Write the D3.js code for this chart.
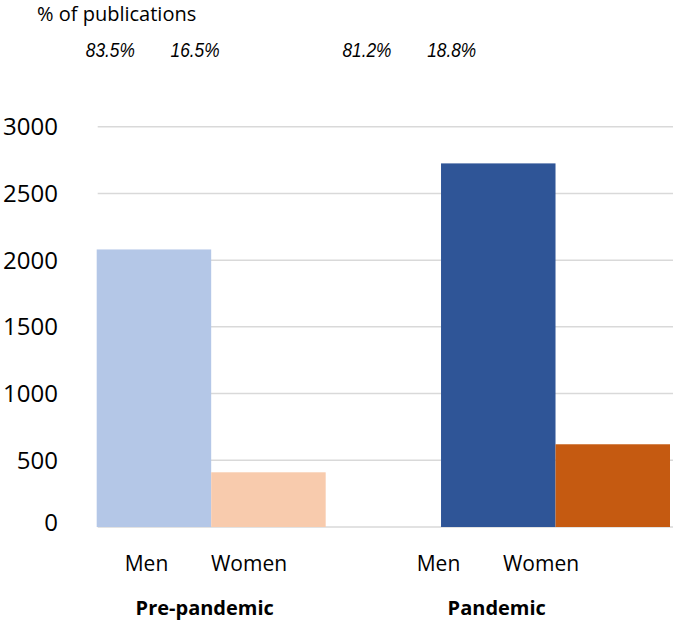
<!DOCTYPE html>
<html><head><meta charset="utf-8">
<script src="https://cdn.jsdelivr.net/npm/d3@7"></script>
<style>body{margin:0;background:#fff}svg{display:block}</style>
</head><body>
<svg id="c" width="685" height="620"></svg>
<script>
const groups = ["Pre-pandemic", "Pandemic"];
const genders = ["Men", "Women"];
const values = {"Pre-pandemic": [2080, 410], "Pandemic": [2725, 620]};
const percents = {"Pre-pandemic": ["83.5%", "16.5%"], "Pandemic": ["81.2%", "18.8%"]};
const colors = {"Pre-pandemic": ["#b4c7e7", "#f8cbad"], "Pandemic": ["#2f5597", "#c55a11"]};
const yTicks = [0, 500, 1000, 1500, 2000, 2500, 3000];
const yTitle = "% of publications";

const svg = d3.select("#c");
const y = d3.scaleLinear().domain([0, 3000]).range([527, 126.7]);
const x0 = d3.scaleBand().domain(groups).range([96.7, 670]).paddingInner(0.335);
const x1 = d3.scaleBand().domain(genders).range([0, x0.bandwidth()]);
// label rows
const lx0 = d3.scaleBand().domain(groups).range([95.25, 592.25]).paddingInner(0.298);
const lx1 = d3.scaleBand().domain(genders).range([0, lx0.bandwidth()]);
const px0 = d3.scaleBand().domain(groups).range([68, 494]).paddingInner(0.34);
const px1 = d3.scaleBand().domain(genders).range([0, px0.bandwidth()]);

// gridlines
svg.append("g").selectAll("line").data(yTicks).join("line")
  .attr("x1", 97.7).attr("x2", 673)
  .attr("y1", d => y(d)).attr("y2", d => y(d))
  .attr("stroke", "#d9d9d9").attr("stroke-width", 1.5);

// y labels
svg.append("g").selectAll("text").data(yTicks).join("text")
  .attr("x", 58).attr("y", d => y(d) - (d === 0 ? 5 : 0))
  .attr("dy", "0.36em").attr("text-anchor", "end")
  .attr("font-family", "Open Sans").attr("font-size", 24).attr("fill", "#000")
  .text(d => d);

// bars
const g = svg.append("g").selectAll("g").data(groups).join("g")
  .attr("transform", d => `translate(${x0(d)},0)`);
g.selectAll("rect").data(d => genders.map((k, i) => ({grp: d, k, i, v: values[d][i]})))
  .join("rect")
  .attr("x", d => x1(d.k)).attr("width", x1.bandwidth())
  .attr("y", d => y(d.v)).attr("height", d => y(0) - y(d.v))
  .attr("fill", d => colors[d.grp][d.i]);

// category labels
groups.forEach(grp => {
  genders.forEach((k, i) => {
    svg.append("text")
      .attr("x", lx0(grp) + lx1(k) + lx1.bandwidth() / 2)
      .attr("y", 571).attr("text-anchor", "middle")
      .attr("font-family", "Open Sans").attr("font-size", 21).attr("fill", "#000")
      .text(k);
    svg.append("text")
      .attr("x", px0(grp) + px1(k) + px1.bandwidth() / 2)
      .attr("y", 57).attr("text-anchor", "middle")
      .attr("font-family", "Liberation Sans").attr("font-style", "italic")
      .attr("font-size", 21).attr("fill", "#000")
      .attr("textLength", 49).attr("lengthAdjust", "spacingAndGlyphs")
      .text(percents[grp][i]);
  });
  svg.append("text")
    .attr("x", lx0(grp) + lx0.bandwidth() / 2 + 7)
    .attr("y", 615).attr("text-anchor", "middle")
    .attr("font-family", "Open Sans").attr("font-weight", "bold")
    .attr("font-size", 20).attr("fill", "#000")
    .text(grp);
});

svg.append("text").attr("x", 37).attr("y", 21)
  .attr("font-family", "Open Sans").attr("font-size", 20).attr("fill", "#000")
  .text(yTitle);
</script>
</body></html>
